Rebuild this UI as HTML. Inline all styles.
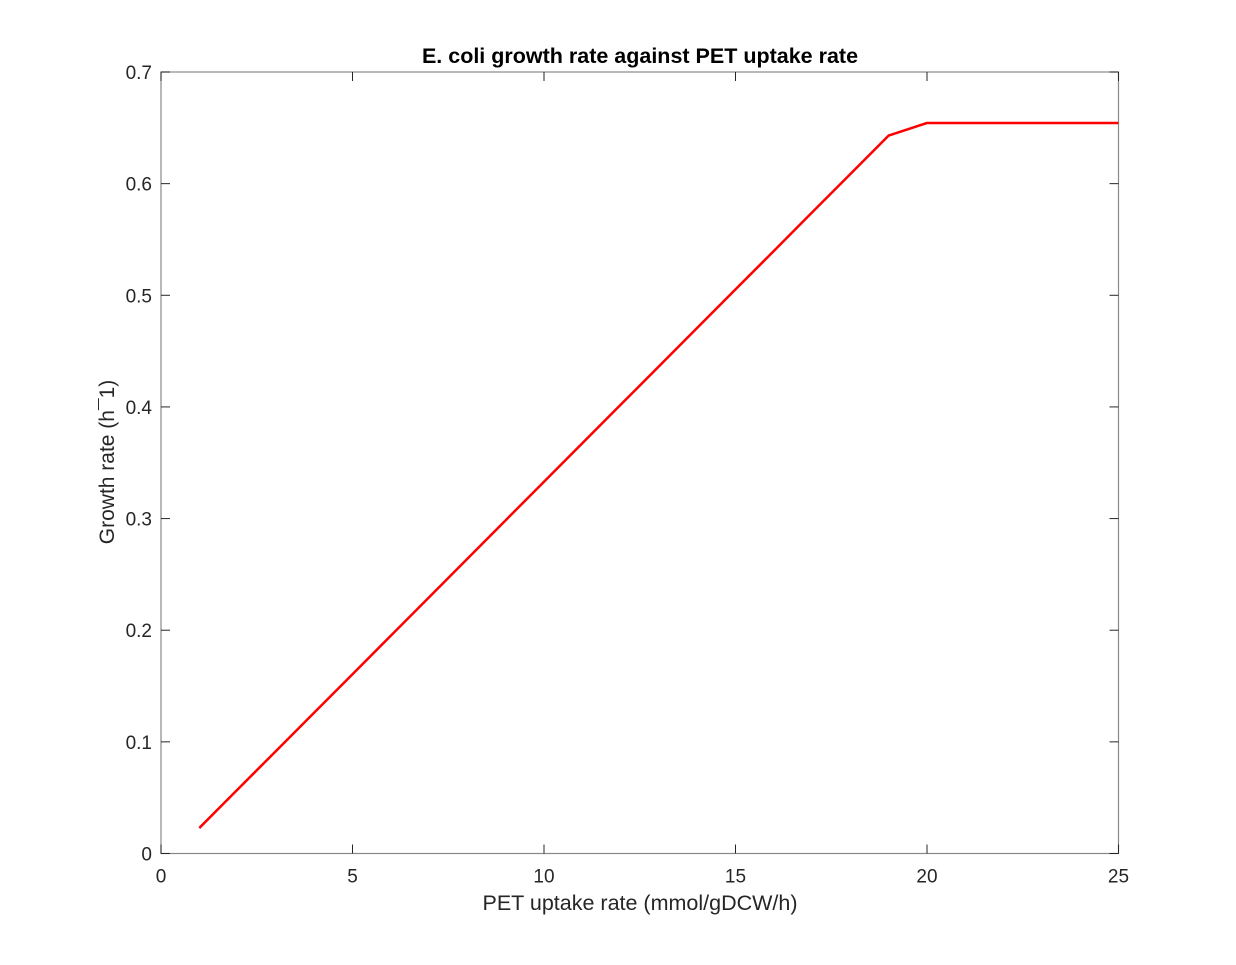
<!DOCTYPE html>
<html><head><meta charset="utf-8"><style>
body{margin:0;background:#fff;}
svg text{font-family:"Liberation Sans",sans-serif;fill:#262626;}
</style></head><body>
<svg id="chart" width="1236" height="960" viewBox="0 0 1236 960" xmlns="http://www.w3.org/2000/svg">
<rect width="1236" height="960" fill="#fff"/>
<text x="640" y="63" text-anchor="middle" font-size="21.5" font-weight="bold" style="fill:#000">E. coli growth rate against PET uptake rate</text>
<g id="axes"></g>
<text x="640" y="910" text-anchor="middle" font-size="21.5">PET uptake rate (mmol/gDCW/h)</text>
<text transform="translate(114,462) rotate(-90)" text-anchor="middle" font-size="21">Growth rate (h¯1)</text>
</svg>
<script>
const xValues=[1,2,3,4,5,6,7,8,9,10,11,12,13,14,15,16,17,18,19,20,21,22,23,24,25];
const growthValues=[0.0228,0.0573,0.0917,0.1262,0.1606,0.1951,0.2296,0.2640,0.2985,0.3330,0.3674,0.4019,0.4363,0.4708,0.5053,0.5397,0.5742,0.6086,0.6431,0.6543,0.6543,0.6543,0.6543,0.6543,0.6543];
const xTicks=[0,5,10,15,20,25];
const yTicks=[0,0.1,0.2,0.3,0.4,0.5,0.6,0.7];
const L=161,R=1118.5,T=72,B=853.5;
const sx=v=>L+(v-0)/25*(R-L);
const sy=v=>B-(v-0)/0.7*(B-T);
const ns="http://www.w3.org/2000/svg";
const g=document.getElementById('axes');
function mk(t,a){const e=document.createElementNS(ns,t);for(const k in a)e.setAttribute(k,a[k]);g.appendChild(e);return e;}
const box=mk('rect',{x:L,y:T,width:R-L,height:B-T,fill:'none',stroke:'#888',"stroke-width":1.2});


xTicks.forEach(v=>{
  const x=sx(v);
  const t1=mk('line',{x1:x,x2:x,y1:B,y2:B-9,stroke:'#262626'});
  
  
  const t2=mk('line',{x1:x,x2:x,y1:T,y2:T+9,stroke:'#262626'});
  
  
  const tx=mk('text',{x:x,y:B+29,"text-anchor":"middle","font-size":19});
  tx.textContent=String(v);
  
  
});
yTicks.forEach(v=>{
  const y=sy(v);
  const t1=mk('line',{x1:L,x2:L+9,y1:y,y2:y,stroke:'#262626'});
  
  
  const t2=mk('line',{x1:R,x2:R-9,y1:y,y2:y,stroke:'#262626'});
  
  
  const tx=mk('text',{x:L-9,y:y+7,"text-anchor":"end","font-size":19});
  tx.textContent=v===0?'0':String(v);
  
  
});
const pts=xValues.map((x,i)=>sx(x).toFixed(1)+','+sy(growthValues[i]).toFixed(1)).join(' ');
const line=mk('polyline',{points:pts,fill:'none',stroke:'#ff0000',"stroke-width":2.5,"stroke-linejoin":"round"});


</script>
</body></html>
